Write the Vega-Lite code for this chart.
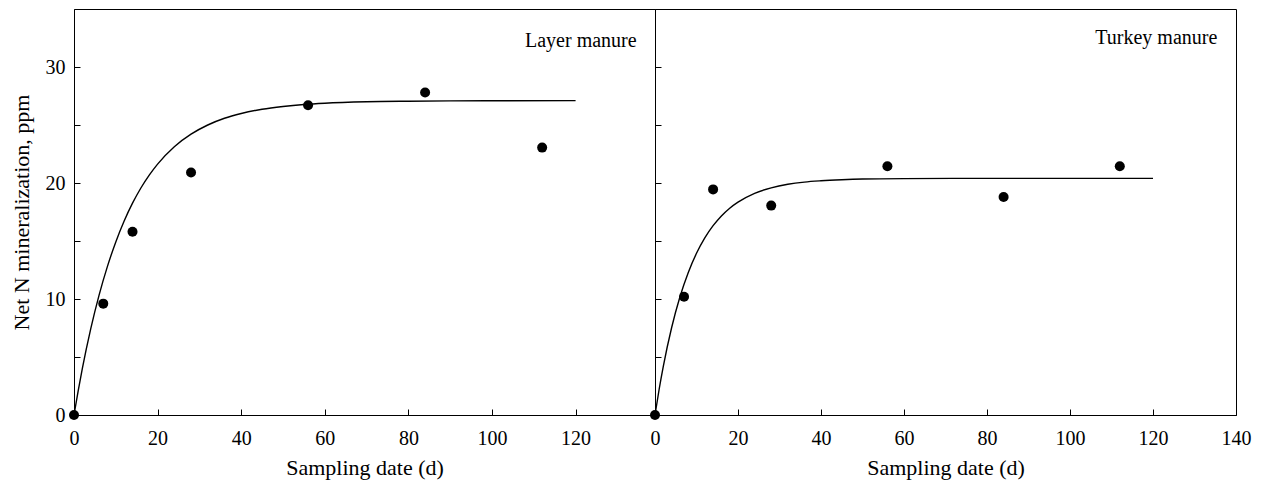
{
  "$schema": "https://vega.github.io/schema/vega-lite/v6.json",
  "padding": {"left": 9, "top": 8, "right": 5, "bottom": 5},
  "background": "white",
  "spacing": 0,
  "bounds": "flush",
  "config": {
    "font": "Liberation Serif",
    "view": {"stroke": "black", "strokeWidth": 1},
    "axis": {
      "domainColor": "black",
      "domainWidth": 1,
      "tickColor": "black",
      "tickWidth": 1,
      "tickSize": -6,
      "grid": false,
      "labelFlush": false,
      "labelOverlap": false,
      "labelColor": "black",
      "labelFont": "Liberation Serif",
      "labelFontSize": 20,
      "titleColor": "black",
      "titleFont": "Liberation Serif",
      "titleFontSize": 22,
      "titleFontWeight": "normal"
    }
  },
  "datasets": {
    "layer_obs": [
      {"day": 0, "N": 0},
      {"day": 7, "N": 9.6},
      {"day": 14, "N": 15.8},
      {"day": 28, "N": 20.9},
      {"day": 56, "N": 26.7},
      {"day": 84, "N": 27.8},
      {"day": 112, "N": 23.05}
    ],
    "layer_fit": [
      {"day": 0, "N": 0},
      {"day": 1, "N": 2.08},
      {"day": 2, "N": 4.01},
      {"day": 4, "N": 7.42},
      {"day": 6, "N": 10.33},
      {"day": 8, "N": 12.81},
      {"day": 10, "N": 14.92},
      {"day": 12, "N": 16.72},
      {"day": 14, "N": 18.26},
      {"day": 16, "N": 19.57},
      {"day": 18, "N": 20.68},
      {"day": 20, "N": 21.63},
      {"day": 24, "N": 23.13},
      {"day": 28, "N": 24.21},
      {"day": 32, "N": 25.0},
      {"day": 36, "N": 25.58},
      {"day": 40, "N": 25.99},
      {"day": 45, "N": 26.36},
      {"day": 50, "N": 26.6},
      {"day": 55, "N": 26.77},
      {"day": 60, "N": 26.88},
      {"day": 70, "N": 27.0},
      {"day": 80, "N": 27.05},
      {"day": 90, "N": 27.08},
      {"day": 100, "N": 27.09},
      {"day": 120, "N": 27.1}
    ],
    "turkey_obs": [
      {"day": 0, "N": 0},
      {"day": 7, "N": 10.2},
      {"day": 14, "N": 19.45},
      {"day": 28, "N": 18.05},
      {"day": 56, "N": 21.44},
      {"day": 84, "N": 18.8},
      {"day": 112, "N": 21.44}
    ],
    "turkey_fit": [
      {"day": 0, "N": 0},
      {"day": 1, "N": 2.22},
      {"day": 2, "N": 4.19},
      {"day": 4, "N": 7.52},
      {"day": 6, "N": 10.17},
      {"day": 8, "N": 12.27},
      {"day": 10, "N": 13.94},
      {"day": 12, "N": 15.27},
      {"day": 14, "N": 16.32},
      {"day": 16, "N": 17.16},
      {"day": 18, "N": 17.83},
      {"day": 20, "N": 18.35},
      {"day": 24, "N": 19.11},
      {"day": 28, "N": 19.58},
      {"day": 32, "N": 19.89},
      {"day": 36, "N": 20.08},
      {"day": 40, "N": 20.19},
      {"day": 45, "N": 20.28},
      {"day": 50, "N": 20.34},
      {"day": 60, "N": 20.38},
      {"day": 80, "N": 20.4},
      {"day": 120, "N": 20.4}
    ]
  },
  "hconcat": [
    {
      "width": 581,
      "height": 406,
      "layer": [
        {
          "data": {"name": "layer_fit"},
          "mark": {"type": "line", "color": "black", "strokeWidth": 1.4, "interpolate": "monotone"},
          "encoding": {
            "x": {"field": "day", "type": "quantitative", "scale": {"domain": [0, 139], "nice": false}, "axis": {"values": [0, 20, 40, 60, 80, 100, 120], "title": "Sampling date (d)", "labelPadding": 19, "titlePadding": 9}},
            "y": {"field": "N", "type": "quantitative", "scale": {"domain": [0, 35], "nice": false}, "axis": {"values": [0, 5, 10, 15, 20, 25, 30], "labelExpr": "datum.value % 10 === 0 ? datum.label : ''", "title": "Net N mineralization, ppm", "labelPadding": 15, "titlePadding": 12}}
          }
        },
        {
          "data": {"name": "layer_obs"},
          "mark": {"type": "circle", "color": "black", "opacity": 1, "size": 100},
          "encoding": {
            "x": {"field": "day", "type": "quantitative"},
            "y": {"field": "N", "type": "quantitative"}
          }
        },
        {
          "data": {"values": [{"label": "Layer manure"}]},
          "mark": {"type": "text", "align": "right", "baseline": "alphabetic", "fontSize": 20, "color": "black", "font": "Liberation Serif"},
          "encoding": {
            "x": {"datum": 134.6, "type": "quantitative"},
            "y": {"datum": 31.7, "type": "quantitative"},
            "text": {"field": "label"}
          }
        }
      ]
    },
    {
      "width": 581,
      "height": 406,
      "layer": [
        {
          "data": {"name": "turkey_fit"},
          "mark": {"type": "line", "color": "black", "strokeWidth": 1.4, "interpolate": "monotone"},
          "encoding": {
            "x": {"field": "day", "type": "quantitative", "scale": {"domain": [0, 140], "nice": false}, "axis": {"values": [0, 20, 40, 60, 80, 100, 120, 140], "title": "Sampling date (d)", "labelPadding": 19, "titlePadding": 9}},
            "y": {"field": "N", "type": "quantitative", "scale": {"domain": [0, 35], "nice": false}, "axis": {"values": [0, 5, 10, 15, 20, 25, 30], "labels": false, "title": null, "minExtent": 0, "maxExtent": 0}}
          }
        },
        {
          "data": {"name": "turkey_obs"},
          "mark": {"type": "circle", "color": "black", "opacity": 1, "size": 100},
          "encoding": {
            "x": {"field": "day", "type": "quantitative"},
            "y": {"field": "N", "type": "quantitative"}
          }
        },
        {
          "data": {"values": [{"label": "Turkey manure"}]},
          "mark": {"type": "text", "align": "right", "baseline": "alphabetic", "fontSize": 20, "color": "black", "font": "Liberation Serif"},
          "encoding": {
            "x": {"datum": 135.5, "type": "quantitative"},
            "y": {"datum": 32.0, "type": "quantitative"},
            "text": {"field": "label"}
          }
        }
      ]
    }
  ]
}
